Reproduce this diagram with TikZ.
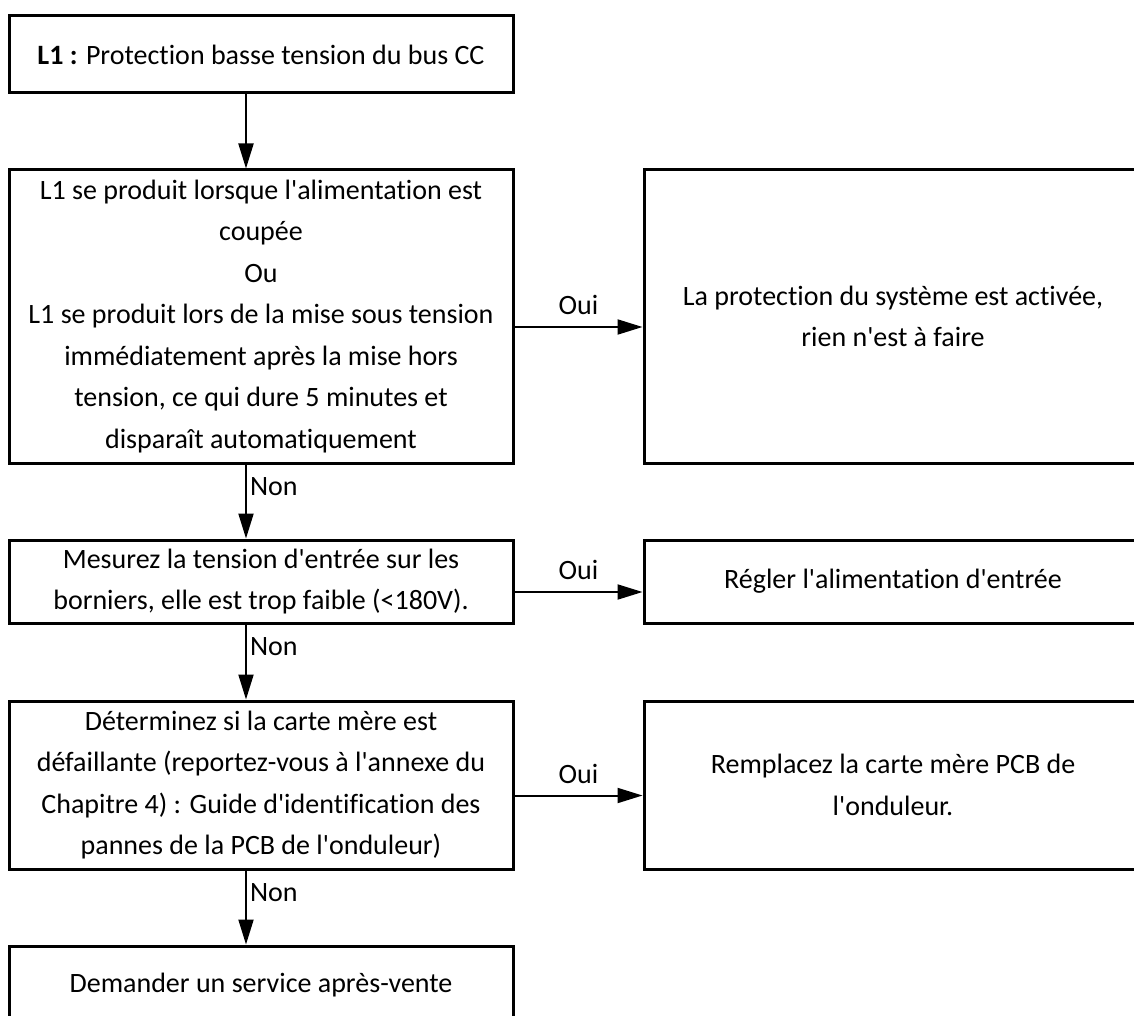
\documentclass[tikz,border=0pt]{standalone}
\usepackage{fontspec}
\setmainfont{Carlito}[Ligatures={TeXOff,CommonOff}]
\usetikzlibrary{arrows.meta}

\begin{document}
\begin{tikzpicture}[x=1pt, y=-1pt]
	\tikzset{bx/.style={rectangle, draw=black, line width=3pt, align=center, inner sep=0pt, font=\fontsize{28}{41.5}\selectfont}};
	\tikzset{ar/.style={-{Triangle[length=25pt, width=15pt]}, line width=2pt}};
	\tikzset{lb/.style={font=\fontsize{28}{32}\selectfont, inner sep=3pt}};

	\clip (0, 0) rectangle (1134, 1016);

	% left column
	\node[bx, minimum width=504pt, minimum height=77pt] (l1) at (261, 54.5) {\textbf{L1 :} Protection basse tension du bus CC};
	\node[bx, minimum width=504pt, minimum height=293pt] (chk) at (261, 316.5) {L1 se produit lorsque l'alimentation est\\coupée\\Ou\\L1 se produit lors de la mise sous tension\\immédiatement après la mise hors\\tension, ce qui dure 5 minutes et\\disparaît automatiquement};
	\node[bx, minimum width=504pt, minimum height=83pt] (mes) at (261, 581.5) {Mesurez la tension d'entrée sur les\\borniers, elle est trop faible (<180V).};
	\node[bx, minimum width=504pt, minimum height=168pt] (det) at (261, 785) {Déterminez si la carte mère est\\défaillante (reportez-vous à l'annexe du\\Chapitre 4) : Guide d'identification des\\pannes de la PCB de l'onduleur)};
	\node[bx, minimum width=504pt, minimum height=78pt] (sav) at (261, 985) {Demander un service après-vente};

	% right column
	\node[bx, minimum width=498pt, minimum height=293pt] (prot) at (893, 316.5) {La protection du système est activée,\\rien n'est à faire};
	\node[bx, minimum width=498pt, minimum height=83pt] (regl) at (893, 581.5) {Régler l'alimentation d'entrée};
	\node[bx, minimum width=498pt, minimum height=168pt] (rempl) at (893, 785) {Remplacez la carte mère PCB de\\l'onduleur.};

	\draw[ar] ([xshift=-15pt]l1.south) to ([xshift=-15pt]chk.north);
	\draw[ar] ([xshift=-15pt]chk.south) to node[lb, right, pos=0.3] {Non} ([xshift=-15pt]mes.north);
	\draw[ar] ([xshift=-15pt]mes.south) to node[lb, right, pos=0.3] {Non} ([xshift=-15pt]det.north);
	\draw[ar] ([xshift=-15pt]det.south) to node[lb, right, pos=0.3] {Non} ([xshift=-15pt]sav.north);

	\draw[ar] ([yshift=-10.5pt]chk.east) to node[lb, above, yshift=8pt] {Oui} ([yshift=-10.5pt]prot.west);
	\draw[ar] ([yshift=-10.5pt]mes.east) to node[lb, above, yshift=8pt] {Oui} ([yshift=-10.5pt]regl.west);
	\draw[ar] ([yshift=-10.5pt]det.east) to node[lb, above, yshift=8pt] {Oui} ([yshift=-10.5pt]rempl.west);

\end{tikzpicture}
\end{document}
